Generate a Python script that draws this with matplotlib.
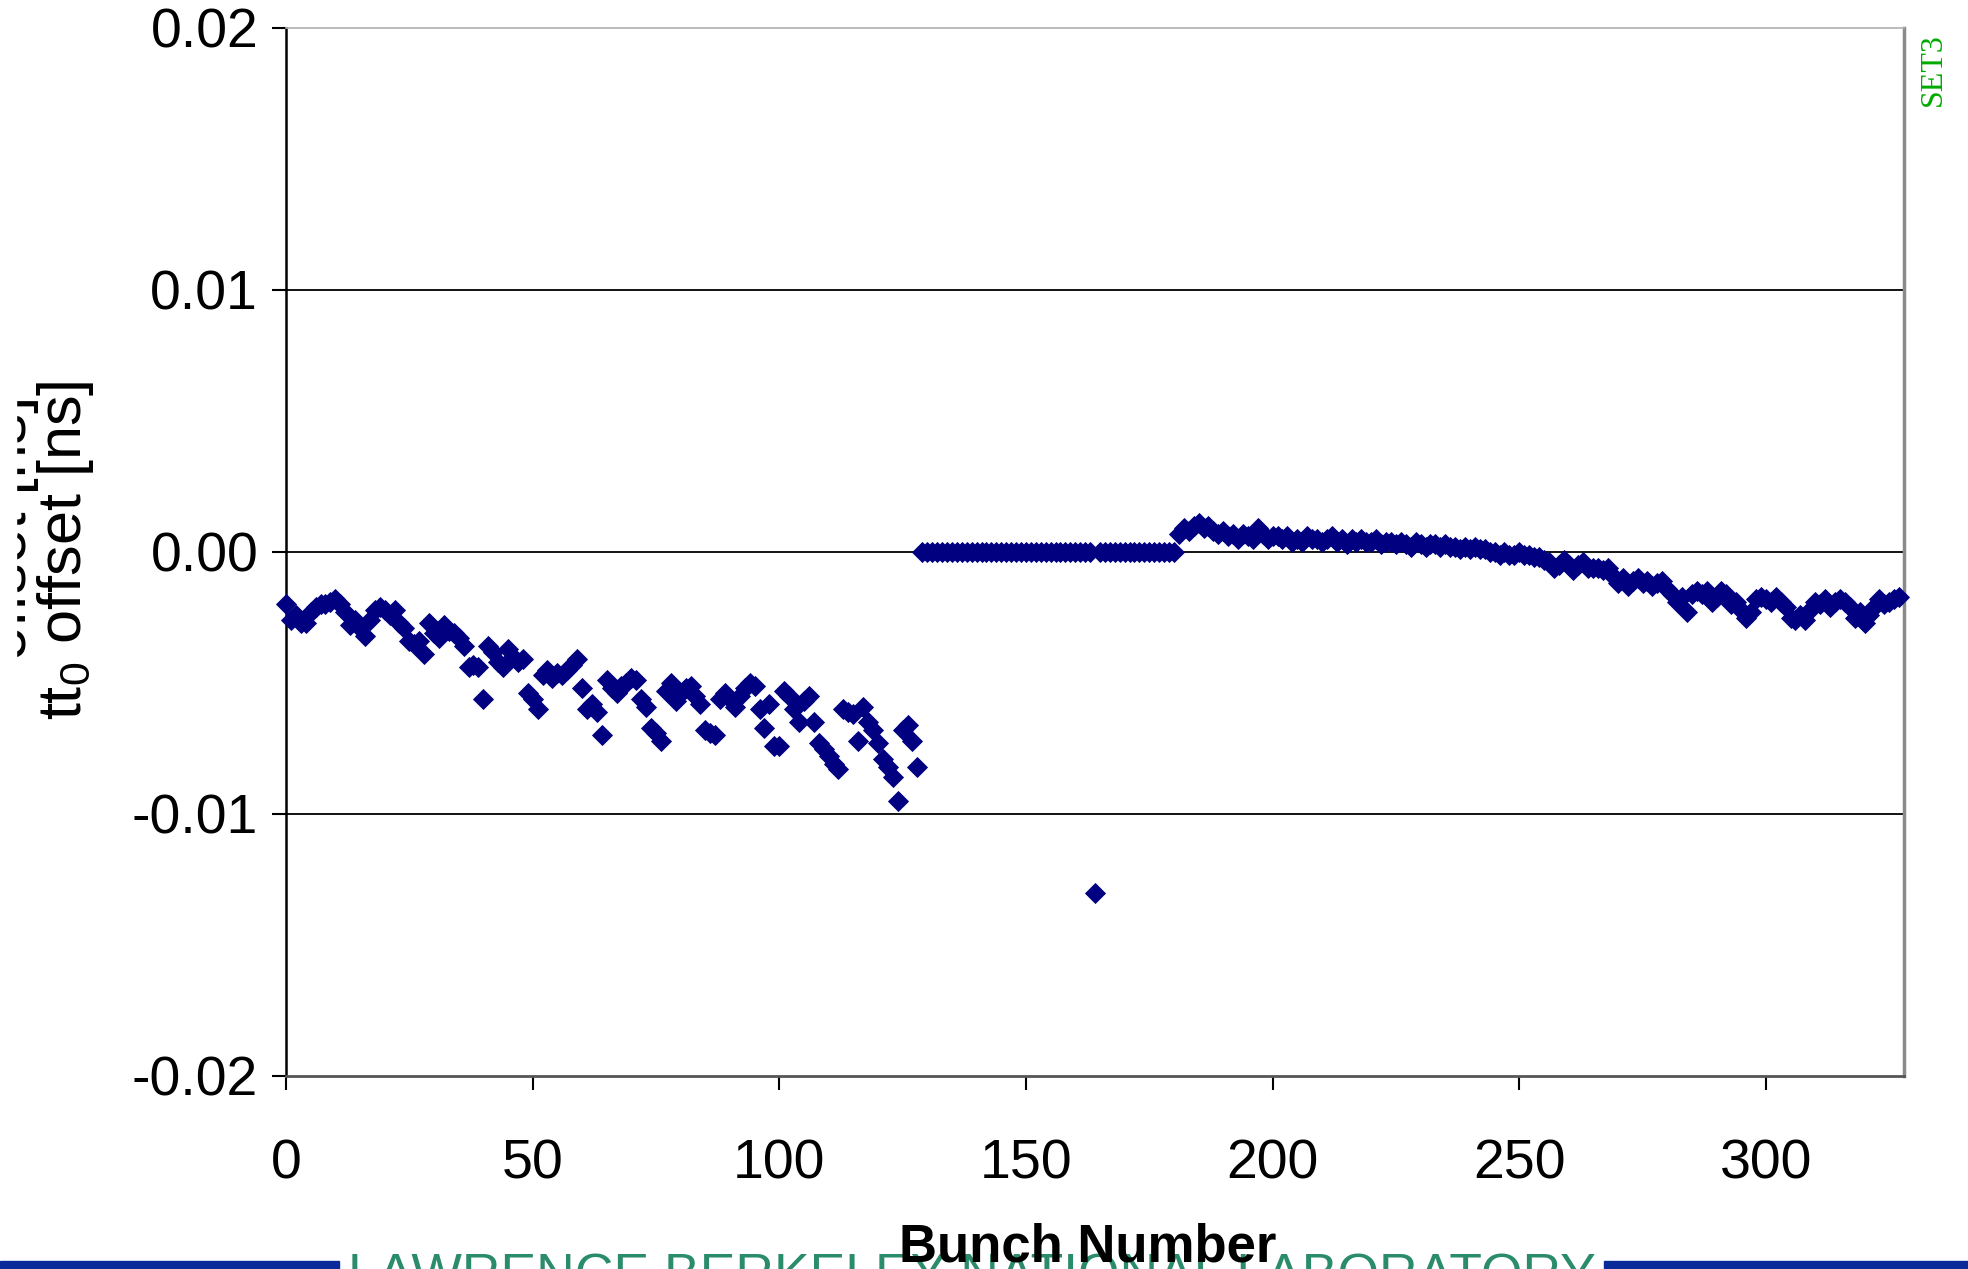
import numpy as np
import matplotlib
matplotlib.use('Agg')
import matplotlib.pyplot as plt
from matplotlib.patches import Rectangle

# t0 offset per bunch
# bunches 0-128
offset_a = [-0.0020, -0.0026, -0.0024, -0.0027, -0.0027, -0.0023, -0.0021, -0.0020, -0.0020, -0.0019,
            -0.0018, -0.0020, -0.0023, -0.0028, -0.0026, -0.0029, -0.0032, -0.0026, -0.0022, -0.0021,
            -0.0022, -0.0024, -0.0022, -0.0027, -0.0029, -0.0034, -0.0035, -0.0034, -0.0039, -0.0027,
            -0.0031, -0.0033, -0.0028, -0.0030, -0.0031, -0.0033, -0.0036, -0.0044, -0.0043, -0.0044,
            -0.0056, -0.0036, -0.0038, -0.0042, -0.0044, -0.0037, -0.0040, -0.0042, -0.0041, -0.0054,
            -0.0056, -0.0060, -0.0047, -0.0045, -0.0048, -0.0046, -0.0047, -0.0045, -0.0043, -0.0041,
            -0.0052, -0.0060, -0.0058, -0.0061, -0.0070, -0.0049, -0.0052, -0.0054, -0.0051, -0.0050,
            -0.0048, -0.0049, -0.0056, -0.0059, -0.0067, -0.0069, -0.0072, -0.0053, -0.0050, -0.0057,
            -0.0054, -0.0052, -0.0051, -0.0055, -0.0058, -0.0068, -0.0069, -0.0070, -0.0056, -0.0054,
            -0.0056, -0.0059, -0.0055, -0.0052, -0.0050, -0.0051, -0.0060, -0.0067, -0.0058, -0.0074,
            -0.0074, -0.0053, -0.0055, -0.0060, -0.0065, -0.0057, -0.0055, -0.0065, -0.0073, -0.0075,
            -0.0078, -0.0081, -0.0083, -0.0060, -0.0061, -0.0062, -0.0072, -0.0059, -0.0065, -0.0068,
            -0.0073, -0.0079, -0.0082, -0.0086, -0.0095, -0.0068, -0.0066, -0.0072, -0.0082]
# bunches 129-180 (164 is the outlier)
offset_b = [0.0, 0.0, 0.0, 0.0, 0.0, 0.0, 0.0, 0.0, 0.0, 0.0,
            0.0, 0.0, 0.0, 0.0, 0.0, 0.0, 0.0, 0.0, 0.0, 0.0,
            0.0, 0.0, 0.0, 0.0, 0.0, 0.0, 0.0, 0.0, 0.0, 0.0,
            0.0, 0.0, 0.0, 0.0, 0.0, -0.0130, 0.0, 0.0, 0.0, 0.0,
            0.0, 0.0, 0.0, 0.0, 0.0, 0.0, 0.0, 0.0, 0.0, 0.0,
            0.0, 0.0]
# bunches 181-327
offset_c = [0.0007, 0.0009, 0.0008, 0.0010, 0.0011, 0.0009, 0.0010, 0.0008, 0.0007, 0.0008,
            0.0006, 0.0007, 0.0005, 0.0007, 0.0006, 0.0005, 0.0009, 0.0007, 0.0005, 0.0006,
            0.0006, 0.0005, 0.0006, 0.0004, 0.0005, 0.0004, 0.0006, 0.0005, 0.0005, 0.0004,
            0.0005, 0.0006, 0.0004, 0.0005, 0.0003, 0.0005, 0.0004, 0.0005, 0.0004, 0.0004,
            0.0005, 0.0003, 0.0004, 0.0004, 0.0003, 0.0004, 0.0003, 0.0002, 0.0004, 0.0003,
            0.0002, 0.0003, 0.0003, 0.0002, 0.0003, 0.0002, 0.0002, 0.0001, 0.0002, 0.0001,
            0.0002, 0.0001, 0.0001, 0.0000, 0.0000, -0.0001, 0.0000, -0.0001, -0.0001, 0.0000,
            -0.0001, -0.0001, -0.0002, -0.0002, -0.0003, -0.0004, -0.0006, -0.0005, -0.0003, -0.0005,
            -0.0007, -0.0005, -0.0004, -0.0006, -0.0006, -0.0006, -0.0007, -0.0006, -0.0009, -0.0012,
            -0.0010, -0.0013, -0.0011, -0.0010, -0.0012, -0.0011, -0.0013, -0.0012, -0.0011, -0.0014,
            -0.0016, -0.0019, -0.0017, -0.0023, -0.0016, -0.0015, -0.0016, -0.0015, -0.0019, -0.0017,
            -0.0015, -0.0016, -0.0020, -0.0019, -0.0022, -0.0025, -0.0023, -0.0018, -0.0017, -0.0018,
            -0.0019, -0.0017, -0.0019, -0.0021, -0.0025, -0.0026, -0.0024, -0.0026, -0.0022, -0.0019,
            -0.0020, -0.0018, -0.0021, -0.0019, -0.0018, -0.0019, -0.0021, -0.0025, -0.0023, -0.0027,
            -0.0024, -0.0021, -0.0018, -0.0020, -0.0019, -0.0018, -0.0017]

offset = offset_a + offset_b + offset_c
bunch = np.arange(len(offset))

xticks = [0, 50, 100, 150, 200, 250, 300]
yticks = [-0.02, -0.01, 0.0, 0.01, 0.02]
ylabels = ['-0.02', '-0.01', '0.00', '0.01', '0.02']

plt.rcParams['font.family'] = ['Liberation Sans', 'DejaVu Sans']

W, H = 1968, 1269
fig = plt.figure(figsize=(W / 100, H / 100), dpi=100)
ax = fig.add_axes([286 / W, 1 - 1076 / H, (1904 - 286) / W, (1076 - 28) / H])

for yy in [-0.01, 0.0, 0.01]:
    ax.axhline(yy, color='black', lw=1.3, zorder=1)

ax.plot(bunch, offset, 'D', color='#000080', ms=10.5, mec='#000080', mew=0.6, zorder=3, clip_on=False)

ax.set_xlim(0, 328)
ax.set_ylim(-0.02, 0.02)
ax.set_xticks(xticks)
ax.set_yticks(yticks)
ax.set_yticklabels(ylabels)
ax.tick_params(axis='both', labelsize=40, direction='out', length=10, width=1.5, colors='black')
ax.tick_params(axis='x', pad=35)
ax.tick_params(axis='y', pad=10)

ax.spines['left'].set_color('black')
ax.spines['left'].set_linewidth(1.8)
ax.spines['bottom'].set_color('#555555')
ax.spines['bottom'].set_linewidth(2)
ax.spines['right'].set_color('#8a8a8a')
ax.spines['right'].set_linewidth(2.5)
ax.spines['top'].set_color('#b0b0b0')
ax.spines['top'].set_linewidth(1.2)

# y labels (two overlapping copies as in the original)
fig.text(11 / W, 1 - 528 / H, 'offset [ns]', rotation=90, fontsize=44,
         ha='center', va='center')
# the left copy is cut off in the original
fig.patches.append(Rectangle((0, 1 - 700 / H), 16 / W, 340 / H, transform=fig.transFigure,
                             color='white', zorder=10))
fig.text(66 / W, 1 - 550 / H, 't$\\mathregular{t_0}$ offset [ns]', rotation=90, fontsize=44,
         ha='center', va='center')

# SET3 tag
fig.text(1933 / W, 1 - 70 / H, 'SET3', rotation=90, fontsize=23, color='#00aa00',
         family='Liberation Serif', ha='center', va='center')

# footer banner
fig.patches.append(Rectangle((0, 0), 339 / W, 8 / H, transform=fig.transFigure,
                             color='#0a2a9a', zorder=0))
fig.patches.append(Rectangle((1604 / W, 0), (W - 1604) / W, 8 / H, transform=fig.transFigure,
                             color='#0a2a9a', zorder=0))
fig.text(972 / W, 1 - 1252 / H, 'LAWRENCE BERKELEY NATIONAL LABORATORY', fontsize=38.5,
         color='#2a8c6a', ha='center', va='top', zorder=1)

fig.text(1088 / W, 1 - 1261 / H, 'Bunch Number', fontsize=38, fontweight='bold',
         ha='center', va='baseline', zorder=5)

plt.savefig('out.png', dpi=100)
